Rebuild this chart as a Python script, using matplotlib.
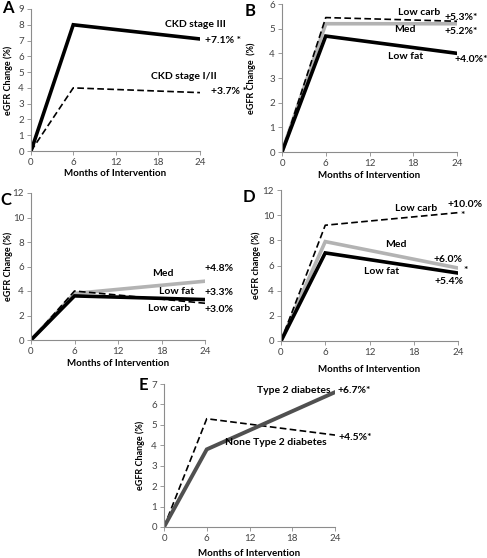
import matplotlib
matplotlib.use("Agg")
import matplotlib.pyplot as plt

plt.rcParams['font.family'] = ['Lato', 'DejaVu Sans']

months = [0, 6, 24]
xticks = [0, 6, 12, 18, 24]

# A: CKD stage
ckd3 = [0, 8.0, 7.1]
ckd12 = [0, 4.0, 3.7]
# B
b_lowcarb = [0, 5.45, 5.3]
b_med = [0, 5.2, 5.2]
b_lowfat = [0, 4.7, 4.0]
# C
c_med = [0, 3.8, 4.8]
c_lowfat = [0, 3.6, 3.3]
c_lowcarb = [0, 4.0, 3.0]
# D
d_lowcarb = [0, 9.2, 10.2]
d_med = [0, 7.9, 5.8]
d_lowfat = [0, 7.0, 5.4]
# E
t2d = [0, 3.8, 6.6]
non_t2d = [0, 5.3, 4.5]

W, H = 487, 558
fig = plt.figure(figsize=(W / 100, H / 100), dpi=100)


def make_ax(l, t, r, b, ymax, ystep, ylabel, letter, lx, ly, ylx, xly):
    ax = fig.add_axes([l / W, 1 - b / H, (r - l) / W, (b - t) / H])
    ax.set_xlim(0, 24)
    ax.set_ylim(0, ymax)
    ax.set_xticks(xticks)
    ax.set_yticks(range(0, ymax + 1, ystep))
    for s in ['top', 'right']:
        ax.spines[s].set_visible(False)
    for s in ['left', 'bottom']:
        ax.spines[s].set_color('#8c8c8c')
        ax.spines[s].set_linewidth(0.8)
    ax.tick_params(labelsize=7, colors='#8c8c8c', labelcolor='#444444',
                   length=3, width=0.6, pad=2)
    fig.text((l + r) / 2 / W, 1 - xly / H, 'Months of Intervention', fontsize=7,
             fontweight='bold', ha='center', va='center')
    fig.text(ylx / W, 1 - ((t + b) / 2) / H, ylabel, rotation=90, fontsize=6.5,
             fontweight='bold', ha='center', va='center')
    fig.text(lx / W, 1 - ly / H, letter, fontsize=12, fontweight='bold',
             ha='center', va='center')
    return ax


def lab(ax, x, y, s, ha='center', fs=7.5):
    ax.text(x, y, s, ha=ha, va='center', fontsize=fs, fontweight='bold',
            clip_on=False)


black = dict(color='black', lw=2.6, solid_joinstyle='miter')
gray = dict(color='#b3b3b3', lw=2.6, solid_joinstyle='miter')
dash = dict(color='black', lw=1.2, ls=(0, (4, 2)))

# A
ax = make_ax(31, 9, 200, 151, 9, 1, 'eGFR Change (%)', 'A', 8, 8, 8, 173)
ax.plot(months, ckd12, **dash)
ax.plot(months, ckd3, **black)
lab(ax, 23.3, 8.0, 'CKD stage III')
lab(ax, 24.7, 7.0, '+7.1% *', ha='left')
lab(ax, 21.7, 4.75, 'CKD stage I/II')
lab(ax, 25.5, 3.75, '+3.7% *', ha='left')

# B
ax = make_ax(282, 4, 457, 152, 6, 1, 'eGFR Change  (%)', 'B', 250, 11, 251, 175)
ax.plot(months, b_med, **gray)
ax.plot(months, b_lowfat, **black)
ax.plot(months, b_lowcarb, **dash)
lab(ax, 18.8, 5.64, 'Low carb')
lab(ax, 22.3, 5.47, '+5.3%*', ha='left')
lab(ax, 16.9, 4.95, 'Med')
lab(ax, 22.3, 4.9, '+5.2%*', ha='left')
lab(ax, 16.9, 3.89, 'Low fat')
lab(ax, 23.6, 3.73, '+4.0%*', ha='left')

# C
ax = make_ax(31, 193, 205, 340, 12, 2, 'eGFR Change (%)', 'C', 6, 200, 8, 364)
ax.plot(months, c_med, **gray)
ax.plot(months, c_lowcarb, **dash)
ax.plot(months, c_lowfat, **black)
lab(ax, 23.9, 5.8, '+4.8%', ha='left')
lab(ax, 18.2, 5.4, 'Med')
lab(ax, 20.1, 4.0, 'Low fat')
lab(ax, 23.9, 3.84, '+3.3%', ha='left')
lab(ax, 19.0, 2.6, 'Low carb')
lab(ax, 23.9, 2.53, '+3.0%', ha='left')

# D
ax = make_ax(281, 190, 458, 341, 12, 2, 'eGFR change (%)', 'D', 249, 197, 256, 370)
ax.plot(months, d_med, **gray)
ax.plot(months, d_lowfat, **black)
ax.plot(months, d_lowcarb, **dash)
lab(ax, 18.3, 10.55, 'Low carb')
lab(ax, 24.9, 10.85, '+10.0%')
lab(ax, 24.7, 9.95, '*')
lab(ax, 15.6, 7.7, 'Med')
lab(ax, 22.6, 6.5, '+6.0%')
lab(ax, 25.1, 5.6, '*')
lab(ax, 13.7, 5.55, 'Low fat')
lab(ax, 22.8, 4.7, '+5.4%')

# E
ax = make_ax(164, 384, 335, 527, 7, 1, 'eGFR Change (%)', 'E', 143, 385, 140, 553)
ax.plot(months, non_t2d, **dash)
ax.plot(months, t2d, color='#505050', lw=2.8, solid_joinstyle='miter')
lab(ax, 18.2, 6.66, 'Type 2 diabetes')
lab(ax, 24.4, 6.66, '+6.7%*', ha='left')
lab(ax, 15.7, 4.16, 'None Type 2 diabetes')
lab(ax, 24.5, 4.36, '+4.5%*', ha='left')

fig.savefig('out.png', dpi=100)
